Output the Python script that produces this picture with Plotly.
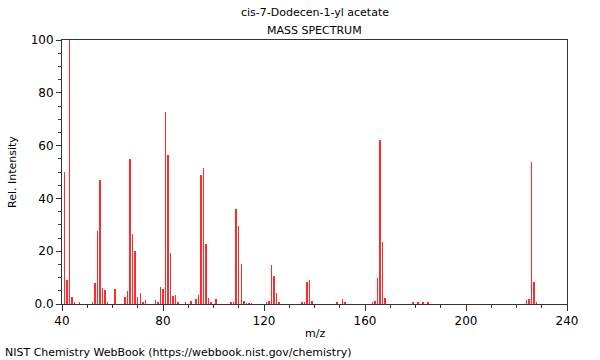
import plotly.graph_objects as go

mz = [41, 42, 43, 44, 45, 47, 52, 53, 54, 55, 56, 57, 58, 61, 65, 66, 67, 68, 69, 70,
      71, 72, 73, 77, 78, 79, 80, 81, 82, 83, 84, 85, 86, 89, 91, 93, 94, 95, 96, 97,
      98, 99, 101, 107, 108, 109, 110, 111, 112, 113, 114, 115, 121, 122, 123, 124,
      125, 126, 135, 136, 137, 138, 139, 149, 151, 152, 163, 164, 165, 166, 167, 168,
      179, 181, 183, 185, 224, 225, 226, 227, 228]
intensity = [50.0, 9.1, 100.0, 2.5, 0.5, 0.5, 0.5, 8.1, 27.8, 47.1, 6.2, 5.4, 0.5, 5.8,
             2.5, 4.9, 54.9, 26.7, 20.2, 2.8, 4.2, 0.5, 1.7, 1.6, 0.5, 6.3, 5.6, 72.6,
             56.6, 19.5, 3.2, 3.4, 0.6, 0.4, 1.1, 2.0, 3.4, 49.0, 51.7, 22.7, 2.4, 0.6,
             1.8, 0.6, 0.4, 36.0, 29.7, 15.2, 1.2, 0.3, 0.3, 0.3, 0.4, 1.0, 14.8, 10.7,
             4.2, 0.5, 0.4, 0.4, 8.4, 9.2, 1.2, 0.4, 2.0, 0.6, 0.5, 1.2, 9.7, 62.2, 23.3,
             2.4, 0.4, 0.4, 0.9, 0.6, 1.5, 2.0, 53.9, 8.2, 0.6]

x_tickvals = [40, 80, 120, 160, 200, 240]
x_ticktext = ["40", "80", "120", "160", "200", "240"]
y_tickvals = [0, 20, 40, 60, 80, 100]
y_ticktext = ["0.0", "20", "40", "60", "80", "100"]

title_line1 = "cis-7-Dodecen-1-yl acetate"
title_line2 = "MASS SPECTRUM"
footer = "NIST Chemistry WebBook (https://webbook.nist.gov/chemistry)"
x_title = "m/z"
y_title = "Rel. Intensity"

FONT = "DejaVu Sans"
AX = "#333333"
T, B, L, R = 40, 56, 62, 33

fig = go.Figure()
fig.add_trace(go.Bar(
    x=mz, y=intensity, width=0.2,
    marker=dict(color="#ff2a2a", line=dict(width=0)),
    hoverinfo="x+y",
))

fig.update_layout(
    width=600, height=360,
    margin=dict(l=L, r=R, t=T, b=B),
    paper_bgcolor="white", plot_bgcolor="white",
    showlegend=False,
    font=dict(family=FONT, size=11, color="black"),
    bargap=0,
)
plot_h = 360 - T - B
plot_w = 600 - L - R
def py(pix):
    return (360 - B - pix) / plot_h
def px(pix):
    return (pix - L) / plot_w

fig.layout.annotations = [
    dict(text=title_line1, x=0.5, xref="paper", y=py(13), yref="paper",
         xanchor="center", yanchor="middle", showarrow=False, font=dict(size=11)),
    dict(text=title_line2, x=0.5, xref="paper", y=py(30), yref="paper",
         xanchor="center", yanchor="middle", showarrow=False, font=dict(size=11)),
    dict(text=x_title, x=0.5, xref="paper", y=py(333), yref="paper",
         xanchor="center", yanchor="middle", showarrow=False, font=dict(size=11)),
    dict(text=y_title, x=px(12), xref="paper", y=0.5, yref="paper", textangle=-90,
         xanchor="center", yanchor="middle", showarrow=False, font=dict(size=11)),
    dict(text=footer, x=px(3), xref="paper", y=py(352), yref="paper",
         xanchor="left", yanchor="middle", showarrow=False, font=dict(size=11)),
]

fig.update_xaxes(
    range=[40, 240], tickvals=x_tickvals, ticktext=x_ticktext,
    ticks="outside", ticklen=6, tickcolor=AX, tickwidth=1,
    minor=dict(dtick=10, tick0=0, ticks="outside", ticklen=3, tickcolor=AX, showgrid=False),
    showline=True, linecolor=AX, linewidth=1, mirror=True,
    showgrid=False, zeroline=False,
    tickfont=dict(size=12),
)
fig.update_yaxes(
    range=[0, 100], tickvals=y_tickvals, ticktext=y_ticktext,
    ticks="outside", ticklen=5, tickcolor=AX, tickwidth=1,
    minor=dict(dtick=5, tick0=0, ticks="outside", ticklen=3, tickcolor=AX, showgrid=False),
    showline=True, linecolor=AX, linewidth=1, mirror=True,
    showgrid=False, zeroline=False,
    tickfont=dict(size=12),
)

fig.write_html("out.html", config={"displayModeBar": False},
               post_script="document.body.style.margin='0';document.body.style.padding='0';")
